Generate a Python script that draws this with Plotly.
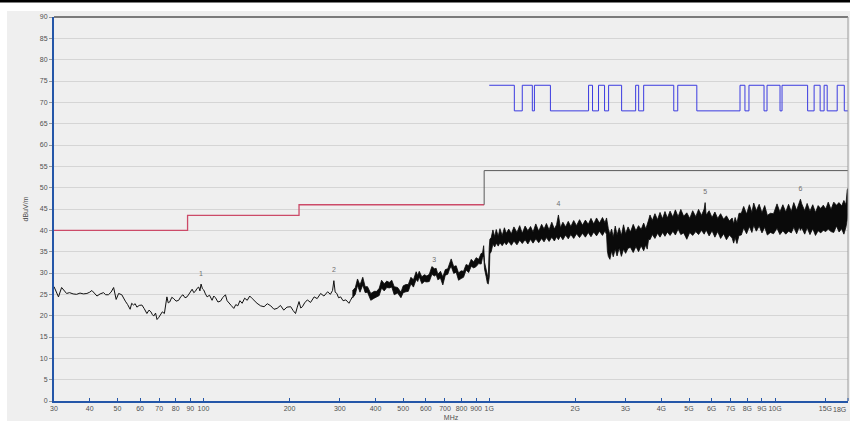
import math
import plotly.graph_objects as go

# ---------------- data ----------------
# x tick labels
tick_freq = [30, 40, 50, 60, 70, 80, 90, 100, 200, 300, 400, 500, 600, 700, 800, 900,
             1000, 2000, 3000, 4000, 5000, 6000, 7000, 8000, 9000, 10000, 15000]
tick_text = ["30", "40", "50", "60", "70", "80", "90", "100", "200", "300", "400", "500",
             "600", "700", "800", "900", "1G", "2G", "3G", "4G", "5G", "6G", "7G", "8G",
             "9G", "10G", "15G"]
end_tick_text = "18G"

# red limit (MHz / dBuV/m)
red_freq = [30, 88, 88, 216, 216, 960]
red_level = [40, 40, 43.5, 43.5, 46, 46]

# grey limit above 960 MHz
gray_freq = [960, 960, 18000]
gray_level = [46, 54, 54]

# blue line (step, level holds from each frequency to the next)
blue_freq = [1000, 1224, 1305, 1415, 1439, 1637, 2226, 2298, 2412, 2532,
             2616, 2905, 3253, 3333, 3470, 4422, 4566, 5325, 7540, 7847,
             8105, 9150, 9374, 10410, 10580, 13000, 13700, 14380, 14850, 15220,
             16500, 17470, 18000]
blue_level = [74, 68, 74, 68, 74, 68, 74, 68, 74, 68,
              74, 68, 74, 68, 74, 68, 74, 68, 74, 68,
              74, 68, 74, 68, 74, 68, 74, 68, 74, 68,
              74, 68, 68]

# measured trace, 30 - 332 MHz
lo_freq = [30, 30.5, 31.1, 31.9, 32.5, 33.2, 34, 35, 36, 37,
           38, 39.1, 40, 40.7, 41.5, 42.4, 43.5, 44.7, 45.5, 46.5,
           47.5, 48.5, 49.5, 50.5, 51.8, 52.5, 53.3, 54.3, 55.4, 56.1,
           56.9, 57.7, 58.5, 59.6, 60.9, 62, 63.4, 64.5, 65.5, 66.2,
           67, 68, 68.8, 69.8, 70.6, 71.8, 73, 73.8, 74.5, 75.3,
           76.2, 77.5, 78.7, 80.2, 81.9, 83.4, 84.8, 86.2, 87.6, 89.5,
           91.3, 92.5, 93.7, 95, 96.3, 97.2, 98.1, 99.2, 100.3, 101.6,
           103, 105, 107.2, 108.7, 110.2, 112.4, 114.7, 117, 119.4, 121,
           122.7, 125, 127.7, 129.8, 131.9, 134.2, 136.6, 139.4, 142.3, 145.2,
           148.2, 151, 154, 158.5, 163, 167.3, 172, 176.5, 181, 186,
           191, 196, 202, 206, 210, 213, 216, 219, 222, 226,
           231, 237, 244, 250, 257, 264, 272, 278, 283, 286,
           289, 293, 297, 302, 308, 315, 320, 323, 327, 332]
lo_level = [26.8, 25.5, 24.4, 26.6, 25.8, 25.2, 25.4, 25.1, 25.0, 25.3,
            25.1, 25.2, 25.5, 25.9, 25.3, 24.6, 25.1, 25.4, 24.9, 24.9,
            25.5, 26.6, 23.8, 25.2, 24.9, 24.1, 23.4, 22.6, 21.5, 22.9,
            22.5, 22.8, 22.0, 22.4, 22.5, 21.7, 20.5, 21.3, 20.9, 20.3,
            19.9, 20.6, 19.1, 19.6, 20.1, 20.9, 20.5, 22.5, 24.4, 23.0,
            23.2, 24.3, 24.0, 23.4, 23.6, 24.5, 24.9, 24.2, 24.4, 25.3,
            26.2, 25.4, 25.7, 26.4, 26.7, 25.8, 27.4, 26.3, 26.0, 25.1,
            24.4, 24.8, 23.6, 24.6, 24.2, 23.2, 23.4, 24.3, 24.9, 23.5,
            22.9, 22.4, 21.7, 22.6, 22.3, 23.5, 22.9, 24.1, 23.6, 24.6,
            24.0, 23.4, 22.9, 22.3, 22.1, 22.8, 22.3, 21.5, 21.7, 22.4,
            21.3, 22.0, 22.1, 21.2, 20.5, 22.0, 23.3, 21.8, 22.1, 23.0,
            23.7, 23.1, 24.4, 24.0, 25.2, 24.6, 25.6, 25.0, 25.9, 28.2,
            25.5, 25.2, 24.2, 24.4, 23.5, 23.7, 23.2, 22.9, 23.6, 24.4]

# measured trace, 332 MHz - 18 GHz: dense band (upper / lower envelope)
band_freq = [332, 340, 346, 353, 361, 368, 375, 385, 396, 404,
             412, 420, 429, 438, 447, 456, 465, 478, 491, 500,
             511, 521, 532, 543, 555, 562, 569, 581, 593, 605,
             617, 630, 643, 652, 661, 675, 688, 702, 716, 726,
             736, 751, 766, 781, 797, 813, 830, 847, 865, 882,
             900, 918, 937, 947, 956, 963, 975, 985, 992, 1000,
             1005, 1016, 1030, 1045, 1058, 1075, 1090, 1110, 1130, 1147,
             1170, 1195, 1220, 1250, 1278, 1305, 1335, 1365, 1395, 1423,
             1455, 1490, 1525, 1555, 1585, 1620, 1655, 1690, 1720, 1746,
             1775, 1810, 1850, 1890, 1930, 1975, 2020, 2070, 2120, 2170,
             2220, 2270, 2320, 2374, 2430, 2490, 2540, 2573, 2590, 2610,
             2644, 2680, 2716, 2760, 2800, 2850, 2900, 2950, 3000, 3060,
             3120, 3190, 3260, 3330, 3400, 3470, 3530, 3570, 3610, 3652,
             3720, 3800, 3880, 3959, 4040, 4120, 4200, 4293, 4390, 4480,
             4580, 4680, 4790, 4912, 5030, 5150, 5280, 5400, 5530, 5650,
             5694, 5740, 5880, 6020, 6160, 6300, 6450, 6607, 6760, 6920,
             7080, 7164, 7250, 7358, 7480, 7620, 7767, 7950, 8130, 8300,
             8421, 8600, 8800, 9000, 9200, 9400, 9630, 9880, 10161, 10400,
             10650, 10900, 11150, 11400, 11629, 11900, 12150, 12272, 12400, 12700,
             12950, 13250, 13550, 13850, 14150, 14450, 14750, 15050, 15350, 15700,
             16050, 16400, 16750, 17100, 17414, 17700, 17890, 18000]
band_upper = [25.8, 26.6, 28.6, 27.2, 29.0, 26.8, 26.8, 25.2, 25.7, 25.7,
              26.4, 28.3, 27.5, 28.1, 27.8, 28.3, 26.8, 26.6, 25.5, 27.0,
              27.3, 27.3, 29.0, 28.4, 30.3, 29.4, 30.4, 29.1, 29.6, 29.3,
              29.7, 31.5, 31.0, 31.1, 29.7, 30.4, 29.1, 30.8, 31.0, 32.5,
              33.3, 31.5, 31.7, 30.0, 30.5, 30.4, 32.0, 31.7, 33.2, 32.6,
              33.6, 33.2, 34.6, 34.6, 36.4, 32.5, 30.6, 29.0, 28.6, 36.0,
              37.9, 38.3, 40.1, 38.5, 40.2, 38.6, 40.4, 38.8, 40.6, 39.3,
              40.3, 39.2, 40.8, 39.5, 41.1, 39.3, 41.0, 39.9, 40.9, 39.6,
              41.5, 39.8, 41.4, 40.3, 41.6, 40.1, 41.9, 40.3, 41.3, 43.6,
              40.6, 41.9, 40.8, 42.1, 40.9, 42.3, 41.1, 42.5, 41.2, 42.4,
              41.4, 42.8, 41.5, 42.9, 41.7, 43.0, 41.8, 42.9, 41.5, 40.4,
              39.0, 40.3, 38.4, 41.0, 38.9, 40.6, 38.8, 41.3, 39.2, 40.8,
              39.6, 41.4, 39.9, 41.1, 40.2, 41.7, 40.3, 41.2, 42.4, 43.6,
              42.3, 43.9, 42.5, 44.2, 42.7, 44.4, 42.9, 44.5, 43.1, 44.8,
              43.2, 44.9, 43.3, 44.1, 42.8, 44.6, 43.2, 44.9, 43.5, 45.0,
              46.5, 43.6, 44.6, 43.0, 44.3, 42.8, 43.9, 42.6, 43.4, 42.2,
              42.9, 41.5, 43.0, 41.7, 44.0, 44.0, 45.6, 43.8, 46.0, 44.2,
              46.4, 44.6, 46.1, 44.1, 45.8, 43.5, 44.0, 43.9, 46.2, 44.3,
              46.0, 44.3, 46.1, 44.4, 46.5, 44.7, 46.3, 47.3, 46.2, 44.6,
              46.3, 44.5, 46.0, 44.2, 45.8, 45.1, 45.9, 45.0, 46.6, 44.9,
              46.6, 45.9, 46.5, 45.7, 47.0, 46.0, 49.5, 49.8]
band_lower = [24.1, 25.0, 27.1, 25.5, 27.2, 25.4, 25.5, 23.6, 24.1, 24.3,
              24.7, 26.5, 25.8, 26.6, 26.5, 26.7, 24.9, 25.3, 24.2, 25.4,
              25.6, 25.7, 27.5, 26.7, 28.5, 28.0, 29.1, 27.5, 28.0, 27.9,
              28.0, 29.7, 29.3, 29.6, 28.4, 28.8, 27.2, 29.5, 29.7, 30.9,
              31.6, 29.9, 30.2, 28.3, 28.7, 29.0, 30.7, 30.1, 31.6, 31.2,
              31.5, 32.2, 32.1, 33.6, 34.0, 30.9, 29.2, 27.6, 27.4, 29.0,
              34.5, 35.0, 36.8, 36.1, 37.0, 36.3, 37.1, 36.4, 37.2, 36.6,
              37.4, 36.5, 37.5, 36.6, 37.7, 36.9, 37.8, 36.8, 37.9, 37.0,
              38.0, 37.1, 38.1, 37.3, 38.3, 37.4, 38.4, 37.5, 38.5, 37.8,
              38.7, 37.8, 38.9, 38.0, 39.0, 38.1, 39.2, 38.3, 39.3, 38.4,
              39.5, 38.5, 39.6, 38.7, 39.8, 38.8, 39.9, 39.0, 35.2, 33.9,
              33.2, 35.2, 33.8, 35.6, 34.0, 35.9, 33.9, 35.6, 34.6, 35.8,
              36.0, 34.8, 36.2, 35.0, 36.4, 35.2, 36.6, 35.6, 37.9, 37.8,
              39.0, 38.1, 39.3, 38.4, 39.5, 38.6, 39.6, 38.8, 39.8, 38.9,
              40.3, 39.0, 39.4, 37.9, 39.5, 38.8, 39.7, 39.0, 40.0, 39.1,
              39.3, 40.1, 38.7, 39.9, 38.4, 39.7, 38.1, 39.2, 37.8, 38.9,
              38.2, 37.0, 38.3, 36.9, 38.8, 38.9, 40.6, 39.2, 40.9, 39.5,
              41.2, 39.8, 41.0, 39.4, 40.7, 38.9, 39.5, 39.2, 40.5, 39.0,
              39.9, 39.1, 39.8, 39.4, 40.7, 39.2, 40.8, 40.0, 40.6, 39.1,
              40.6, 39.0, 40.4, 38.8, 39.9, 39.4, 40.0, 39.7, 40.3, 39.7,
              39.5, 41.0, 39.6, 40.4, 39.1, 40.7, 42.5, 46.0]

# peak markers
mk_freq = [98, 286, 642, 1746, 5694, 12272]
mk_level = [27.4, 28.2, 30.7, 43.6, 46.5, 47.3]
mk_label = ["1", "2", "3", "4", "5", "6"]

# ---------------- figure ----------------
FONT = "Liberation Sans, Arial, sans-serif"
AXIS_BLUE = "#2456a8"
TXT = "#505050"

fig = go.Figure()

fig.add_trace(go.Scatter(x=red_freq, y=red_level, mode="lines",
                         line=dict(color="#cc4a68", width=1.3), hoverinfo="skip"))
fig.add_trace(go.Scatter(x=gray_freq, y=gray_level, mode="lines",
                         line=dict(color="#5a5a5a", width=1), hoverinfo="skip"))
fig.add_trace(go.Scatter(x=blue_freq, y=blue_level, mode="lines",
                         line=dict(color="#3b3be0", width=1, shape="hv"), hoverinfo="skip"))
fig.add_trace(go.Scatter(x=lo_freq, y=lo_level, mode="lines",
                         line=dict(color="#111111", width=1), hoverinfo="skip"))
fig.add_trace(go.Scatter(x=band_freq + band_freq[::-1],
                         y=band_upper + band_lower[::-1],
                         mode="lines", fill="toself", fillcolor="#0a0a0a",
                         line=dict(color="#0a0a0a", width=0.8), hoverinfo="skip"))
fig.add_trace(go.Scatter(x=mk_freq, y=[v + 2.4 for v in mk_level], mode="text",
                         text=mk_label, textfont=dict(family=FONT, size=7, color="#707070"),
                         hoverinfo="skip"))

W, H = 850, 426
ML, MR, MT, MB = 54, 2, 17, 25
pw, ph = W - ML - MR, H - MT - MB


def px_x(p):
    return (p - ML) / pw


def px_y(p):
    return (H - MB - p) / ph


shapes = [
    # grey panel
    dict(type="rect", xref="paper", yref="paper", x0=px_x(7), x1=px_x(851),
         y0=px_y(421), y1=px_y(11), fillcolor="#efefef", line=dict(width=0), layer="below"),
    # black strip at very top
    dict(type="rect", xref="paper", yref="paper", x0=px_x(-2), x1=px_x(852),
         y0=px_y(2.5), y1=px_y(-1), fillcolor="#000000", line=dict(width=0), layer="above"),
    # top frame line of plot
    dict(type="line", xref="paper", yref="paper", x0=0, x1=1, y0=1, y1=1,
         line=dict(color="#555555", width=1.5)),
    # right frame line of plot
    dict(type="line", xref="paper", yref="paper", x0=1, x1=1, y0=0, y1=1,
         line=dict(color="#9a9a9a", width=1)),
    # end tick mark at 18 GHz
    dict(type="line", xref="paper", yref="paper", x0=1, x1=1, y0=0, y1=px_y(398),
         line=dict(color=AXIS_BLUE, width=1)),
]

annotations = [
    dict(text=end_tick_text, xref="paper", yref="paper", x=1, y=0, xanchor="right",
         yanchor="top", yshift=-3, showarrow=False,
         font=dict(family=FONT, size=7, color=TXT)),
]

fig.update_layout(
    width=W, height=H,
    margin=dict(l=ML, r=MR, t=MT, b=MB, autoexpand=False),
    paper_bgcolor="#ffffff",
    plot_bgcolor="#efefef",
    showlegend=False,
    font=dict(family=FONT, size=7, color=TXT),
    shapes=shapes,
    annotations=annotations,
    xaxis=dict(
        type="log",
        range=[math.log10(30), math.log10(18000)],
        tickvals=tick_freq, ticktext=tick_text, tickangle=0,
        showgrid=False, zeroline=False, automargin=False,
        showline=True, linecolor=AXIS_BLUE, linewidth=2,
        ticks="inside", ticklen=3, tickcolor=AXIS_BLUE,
        tickfont=dict(family=FONT, size=7, color=TXT),
        title=dict(text="MHz", font=dict(family=FONT, size=7, color=TXT), standoff=4),
    ),
    yaxis=dict(
        range=[0, 90], tick0=0, dtick=5,
        showgrid=True, gridcolor="#d5d5d5", gridwidth=1,
        zeroline=False, automargin=False,
        showline=True, linecolor=AXIS_BLUE, linewidth=2,
        ticks="outside", ticklen=3, tickcolor="#9a9a9a",
        tickfont=dict(family=FONT, size=7, color=TXT),
        title=dict(text="dBuV/m", font=dict(family=FONT, size=7, color=TXT), standoff=10),
    ),
)

fig.write_html(
    "out.html",
    config={"displayModeBar": False},
    post_script="document.body.style.margin='0';document.body.style.overflow='hidden';",
)
